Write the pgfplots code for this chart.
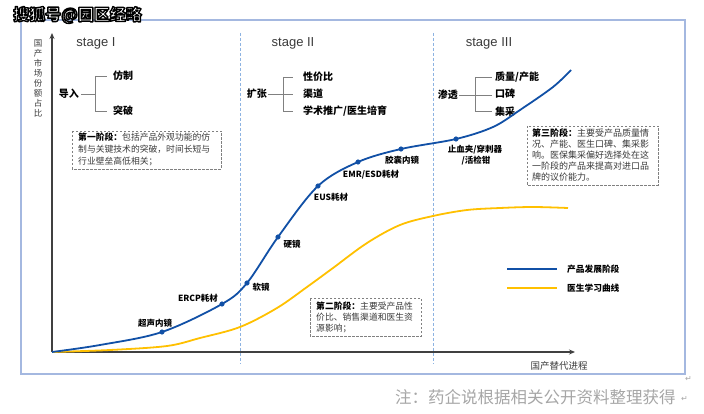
\documentclass[border=0pt]{standalone}
\usepackage{pgfplots}
\pgfplotsset{compat=1.18}
\usepackage{fontspec}
\setmainfont{Noto Sans CJK SC}
\newfontfamily\lat{Liberation Sans}
\newfontfamily\djv{DejaVu Sans}
\usetikzlibrary{arrows.meta}
\definecolor{frameblue}{HTML}{A4B8E0}
\definecolor{dashblue}{HTML}{8DB3E2}
\definecolor{curveblue}{HTML}{1150A6}
\definecolor{curveyellow}{HTML}{FFC000}
\definecolor{axgray}{HTML}{404040}
\definecolor{treegray}{HTML}{808080}
\definecolor{txtgray}{HTML}{3A3A3A}
\definecolor{notegray}{HTML}{A6A6A6}
\begin{document}
\begin{tikzpicture}
\begin{axis}[scale only axis, width=704pt, height=413pt, xmin=0, xmax=704, ymin=-413, ymax=0, hide axis, clip=false]
\path (0,0) rectangle (704,-413);
% frame
\draw[frameblue, line width=2pt] (21,-20) rectangle (685,-374);
% watermark (white text, black outline)
\node[anchor=west, inner sep=0, font=\fontsize{16}{16}\selectfont\bfseries] at (13,-15) {\color{white}\special{pdf:literal direct 0 G 1.4 w 1 j 2 Tr}搜狐号@园区经略\special{pdf:literal direct 0 Tr}};
% dashed stage separators
\draw[dashblue, line width=0.9pt, dash pattern=on 3pt off 2pt] (240,-33) -- (240,-364);
\draw[dashblue, line width=0.9pt, dash pattern=on 3pt off 2pt] (433,-33) -- (433,-364);
% axes
\draw[axgray, line width=1.3pt, -{Stealth[length=6pt,width=5pt]}] (52,-352) -- (52,-33);
\draw[axgray, line width=1.3pt, -{Stealth[length=6pt,width=5pt]}] (52,-352) -- (575,-352);
\node[text=txtgray, align=center, inner sep=0, font=\fontsize{8.5}{9.9}\selectfont] at (38,-78.5) {国\\产\\市\\场\\份\\额\\占\\比};
\node[text=txtgray, inner sep=0, font=\fontsize{9.5}{10}\selectfont] at (559,-366) {国产替代进程};
% stage titles
\node[text=txtgray, inner sep=0, font=\lat\fontsize{13}{13}\selectfont] at (96,-43) {stage I};
\node[text=txtgray, inner sep=0, font=\lat\fontsize{13}{13}\selectfont] at (293,-43) {stage II};
\node[text=txtgray, inner sep=0, font=\lat\fontsize{13}{13}\selectfont] at (489,-43) {stage III};
% tree 1
\draw[treegray, line width=0.8pt] (81,-94) -- (95,-94) (95,-76) -- (95,-111) (95,-76) -- (107,-76) (95,-111) -- (107,-111);
\node[anchor=east, inner sep=0, font=\fontsize{10}{10}\selectfont\bfseries] at (79,-94) {导入};
\node[anchor=west, inner sep=0, font=\fontsize{10}{10}\selectfont\bfseries] at (113,-76) {仿制};
\node[anchor=west, inner sep=0, font=\fontsize{10}{10}\selectfont\bfseries] at (113,-111) {突破};
% tree 2
\draw[treegray, line width=0.8pt] (268,-94) -- (293,-94) (283,-77) -- (283,-111) (283,-77) -- (293,-77) (283,-111) -- (293,-111);
\node[anchor=east, inner sep=0, font=\fontsize{10}{10}\selectfont\bfseries] at (267,-94) {扩张};
\node[anchor=west, inner sep=0, font=\fontsize{10}{10}\selectfont\bfseries] at (303,-77) {性价比};
\node[anchor=west, inner sep=0, font=\fontsize{10}{10}\selectfont\bfseries] at (303,-94) {渠道};
\node[anchor=west, inner sep=0, font=\fontsize{10}{10}\selectfont\bfseries] at (303,-111) {学术推广/医生培育};
% tree 3
\draw[treegray, line width=0.8pt] (459,-95) -- (492,-95) (475,-77) -- (475,-111) (475,-77) -- (492,-77) (475,-111) -- (492,-111);
\node[anchor=east, inner sep=0, font=\fontsize{10}{10}\selectfont\bfseries] at (458,-95) {渗透};
\node[anchor=west, inner sep=0, font=\fontsize{10}{10}\selectfont\bfseries] at (495,-77) {质量/产能};
\node[anchor=west, inner sep=0, font=\fontsize{10}{10}\selectfont\bfseries] at (495,-94) {口碑};
\node[anchor=west, inner sep=0, font=\fontsize{10}{10}\selectfont\bfseries] at (495,-112) {集采};
% dashed boxes
\draw[treegray, line width=0.8pt, dash pattern=on 2.5pt off 1.5pt] (72,-131) rectangle (221,-169);
\node[anchor=north west, align=left, inner sep=0, text=txtgray, font=\fontsize{8.8}{12}\selectfont] at (78,-133) {\textbf{\color{black}第一阶段：}包括产品外观功能的仿\\制与关键技术的突破，时间长短与\\行业壁垒高低相关；};
\draw[treegray, line width=0.8pt, dash pattern=on 2.5pt off 1.5pt] (310,-298) rectangle (421,-336);
\node[anchor=north west, align=left, inner sep=0, text=txtgray, font=\fontsize{8.8}{10.6}\selectfont] at (316,-302) {\textbf{\color{black}第二阶段：}主要受产品性\\价比、销售渠道和医生资\\源影响；};
\draw[treegray, line width=0.8pt, dash pattern=on 2.5pt off 1.5pt] (527,-126) rectangle (658,-185);
\node[anchor=north west, align=left, inner sep=0, text=txtgray, font=\fontsize{9}{11}\selectfont] at (532,-128) {\textbf{\color{black}第三阶段：}主要受产品质量情\\况、产能、医生口碑、集采影\\响。医保集采偏好选择处在这\\一阶段的产品来提高对进口品\\牌的议价能力。};
% curves
\addplot[curveyellow, line width=1.8pt, smooth, tension=0.55] coordinates {(52,-352) (110,-350) (167,-346) (200,-338) (240,-327) (277,-308) (307,-287) (333,-268) (367,-243) (400,-225) (433,-216) (467,-210) (500,-208) (533,-207) (568,-208)};
\addplot[curveblue, line width=1.8pt, smooth, tension=0.55] coordinates {(52,-352) (100,-345) (162,-332) (222,-304) (247,-283) (278,-237) (318,-186) (358,-162) (401,-149) (456,-139) (493,-127) (520,-110) (553,-87) (571,-70)};
\addplot[only marks, mark=*, mark size=2.3pt, curveblue] coordinates {(162,-332) (222,-304) (247,-283) (278,-237) (318,-186) (358,-162) (401,-149) (456,-139)};
% point labels
\node[inner sep=0, font=\fontsize{8.5}{8.5}\selectfont\bfseries] at (155,-323) {超声内镜};
\node[inner sep=0, font=\fontsize{8.5}{8.5}\selectfont\bfseries] at (198,-298) {ERCP耗材};
\node[inner sep=0, font=\fontsize{8.5}{8.5}\selectfont\bfseries] at (261,-287) {软镜};
\node[inner sep=0, font=\fontsize{8.5}{8.5}\selectfont\bfseries] at (292,-244) {硬镜};
\node[inner sep=0, font=\fontsize{8.5}{8.5}\selectfont\bfseries] at (331,-197) {EUS耗材};
\node[inner sep=0, font=\fontsize{8.5}{8.5}\selectfont\bfseries] at (371,-175) {EMR/ESD耗材};
\node[inner sep=0, font=\fontsize{8.5}{8.5}\selectfont\bfseries] at (402,-160) {胶囊内镜};
\node[inner sep=0, font=\fontsize{8.5}{8.5}\selectfont\bfseries] at (475,-150) {止血夹/穿刺器};
\node[inner sep=0, font=\fontsize{8.5}{8.5}\selectfont\bfseries] at (476,-161) {/活检钳};
% legend
\draw[curveblue, line width=2pt] (507,-269) -- (557,-269);
\draw[curveyellow, line width=2pt] (507,-288) -- (557,-288);
\node[anchor=west, inner sep=0, font=\fontsize{8.7}{8.7}\selectfont\bfseries] at (567,-269) {产品发展阶段};
\node[anchor=west, inner sep=0, font=\fontsize{8.7}{8.7}\selectfont\bfseries] at (567,-288) {医生学习曲线};
% note
\node[anchor=west, inner sep=0, text=notegray, font=\fontsize{16.5}{16.5}\selectfont] at (395,-397) {注：药企说根据相关公开资料整理获得};
\node[anchor=west, inner sep=0, text=notegray, font=\djv\fontsize{8}{8}\selectfont] at (681,-399) {↵};
\node[anchor=west, inner sep=0, text=notegray, font=\djv\fontsize{8}{8}\selectfont] at (685,-379) {↵};
\end{axis}
\end{tikzpicture}
\end{document}
